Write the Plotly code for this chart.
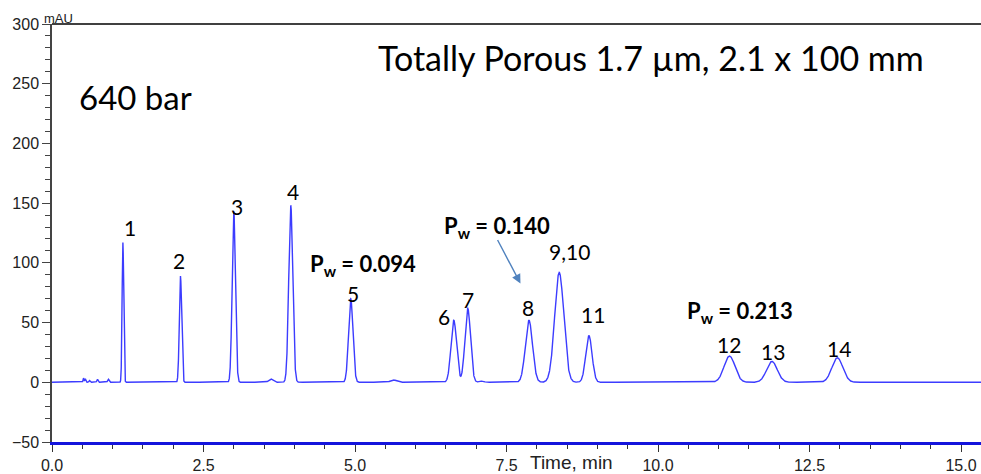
import numpy as np
import plotly.graph_objects as go

# ---- data ----
peak_time   = [0.52, 0.55, 0.62, 0.75, 0.93, 1.17, 2.12, 3.00, 3.61, 3.94, 4.93, 5.63, 6.63, 6.86, 7.09, 7.87, 8.37, 8.86, 11.18, 11.88, 12.96]
peak_height = [3.5, 3.0, 1.5, 2.5, 2.5, 117, 89, 143, 2.8, 148, 70, 2.0, 52, 62, 1.0, 52, 92, 39, 22, 17.5, 20.5]
peak_sigma  = [0.008, 0.008, 0.01, 0.01, 0.012, 0.013, 0.019, 0.027, 0.035, 0.033, 0.036, 0.045, 0.046, 0.046, 0.04, 0.059, 0.075, 0.052, 0.09, 0.088, 0.09]

label_text = ["1", "2", "3", "4", "5", "6", "7", "8", "9,10", "11", "12", "13", "14"]
label_x    = [1.28, 2.09, 3.05, 3.97, 4.96, 6.47, 6.86, 7.85, 8.54, 8.92, 11.17, 11.89, 12.98]
label_y    = [129.6, 101.8, 147.6, 159.8, 74.2, 55.3, 69.4, 62.6, 109.2, 56.7, 31.6, 25.4, 28.2]

pw_text = ["P<sub>w</sub> = 0.094", "P<sub>w</sub> = 0.140", "P<sub>w</sub> = 0.213"]
pw_x    = [4.22, 6.43, 10.45]
pw_y    = [98.1, 130.2, 58.9]

x_range = [0, 15.33]
y_range = [-50, 300]

# ---- build trace from the peak table ----
t = np.arange(0, x_range[1] + 0.0005, 0.001)
signal = np.zeros_like(t)
for rt, h, s in zip(peak_time, peak_height, peak_sigma):
    signal += h * np.exp(-0.5 * ((t - rt) / s) ** 2)

fig = go.Figure()
fig.add_trace(go.Scatter(x=t, y=signal, mode="lines",
                         line=dict(color="rgb(60,60,255)", width=1.4),
                         hoverinfo="skip", showlegend=False))

label_font = dict(family="Lato", size=21, color="black")
for txt, x, y in zip(label_text, label_x, label_y):
    fig.add_annotation(x=x, y=y, text=txt, showarrow=False, font=label_font,
                       xanchor="center", yanchor="middle")

for txt, x, y in zip(pw_text, pw_x, pw_y):
    fig.add_annotation(x=x, y=y, text="<b>" + txt + "</b>", showarrow=False,
                       font=dict(family="Lato", size=22, color="black"),
                       xanchor="left", yanchor="middle")

# arrow pointing to peak 8
fig.add_annotation(x=7.73, y=82.7, ax=7.34, ay=120.4, xref="x", yref="y",
                   axref="x", ayref="y", text="", showarrow=True,
                   arrowhead=2, arrowsize=1.3, arrowwidth=1.4,
                   arrowcolor="rgb(80,130,190)")

fig.add_annotation(x=0.42, y=239, text="640 bar", showarrow=False,
                   font=dict(family="Lato", size=33, color="black"),
                   xanchor="left", yanchor="middle")
fig.add_annotation(x=5.35, y=271.6, text="Totally Porous 1.7 µm, 2.1 x 100 mm",
                   showarrow=False, font=dict(family="Lato", size=34, color="black"),
                   xanchor="left", yanchor="middle")

# axis captions
fig.add_annotation(xref="paper", yref="paper", x=0, y=1, text="mAU",
                   showarrow=False, xanchor="left", yanchor="bottom", xshift=-10, yshift=-4,
                   font=dict(family="Liberation Sans", size=13, color="#222"))
fig.add_annotation(xref="x", yref="paper", x=7.85, y=0, text="Time, min",
                   showarrow=False, xanchor="left", yanchor="middle", yshift=-20,
                   font=dict(family="Liberation Sans", size=19, color="#222"))

# top border
fig.add_shape(type="line", xref="paper", yref="paper", x0=0, x1=1, y0=1, y1=1,
              line=dict(color="black", width=1.5))

tick_font = dict(family="Liberation Sans", size=16, color="#222")
fig.update_xaxes(range=x_range, dtick=2.5, tick0=0, tickformat=".1f",
                 ticks="outside", ticklen=7, tickwidth=1, tickcolor="#333",
                 minor=dict(dtick=0.5, tick0=0, ticks="outside", ticklen=4, tickcolor="#333"),
                 showline=True, linecolor="rgb(20,20,220)", linewidth=2.5,
                 showgrid=False, zeroline=False, tickfont=tick_font)
fig.update_yaxes(range=y_range, dtick=50, tick0=0,
                 ticks="outside", ticklen=8, tickwidth=1, tickcolor="#444",
                 minor=dict(dtick=10, tick0=0, ticks="outside", ticklen=5, tickcolor="#444"),
                 showline=True, linecolor="#444", linewidth=1.5,
                 showgrid=False, zeroline=False, tickfont=tick_font)

fig.update_layout(width=981, height=474, margin=dict(l=52, r=0, t=24, b=32),
                  plot_bgcolor="white", paper_bgcolor="white")

fig.write_html("out.html")
